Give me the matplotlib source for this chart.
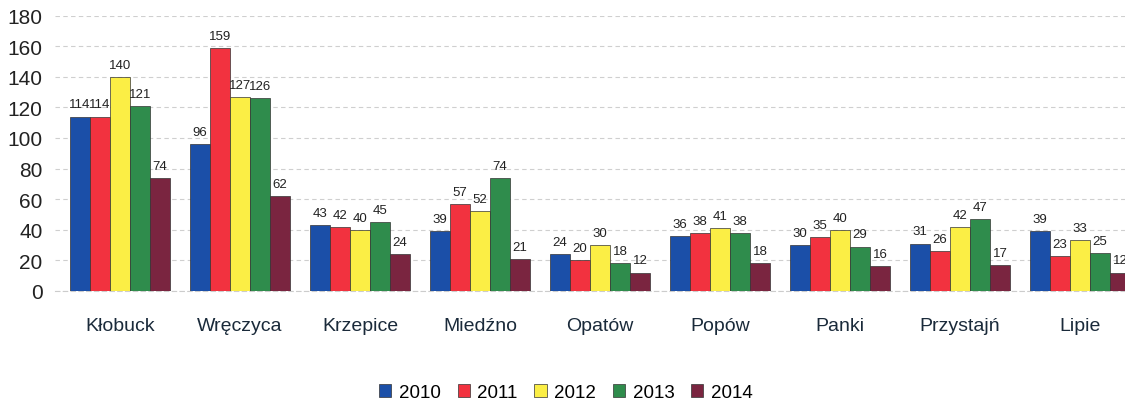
import matplotlib.pyplot as plt
import numpy as np

plt.rcParams['font.family'] = ['Liberation Sans', 'DejaVu Sans']

gminy = ['Kłobuck', 'Wręczyca', 'Krzepice', 'Miedźno', 'Opatów', 'Popów', 'Panki', 'Przystajń', 'Lipie']
lata = ['2010', '2011', '2012', '2013', '2014']
v2010 = [114, 96, 43, 39, 24, 36, 30, 31, 39]
v2011 = [114, 159, 42, 57, 20, 38, 35, 26, 23]
v2012 = [140, 127, 40, 52, 30, 41, 40, 42, 33]
v2013 = [121, 126, 45, 74, 18, 38, 29, 47, 25]
v2014 = [74, 62, 24, 21, 12, 18, 16, 17, 12]
kolory = ['#1b4fa8', '#f2323f', '#fbee45', '#2f8c4c', '#7a2540']

serie = [v2010, v2011, v2012, v2013, v2014]

fig = plt.figure(figsize=(11.25, 4.06), dpi=100)
ax = fig.add_axes([0.049, 0.281, 0.951, 0.678])

x = np.arange(len(gminy))
w = 1 / 6
for i, (vals, rok, kol) in enumerate(zip(serie, lata, kolory)):
    pos = x + (i - 2) * w
    ax.bar(pos, vals, w, color=kol, edgecolor='#333333', linewidth=0.5, label=rok, zorder=3)
    for p, v in zip(pos, vals):
        ax.text(p, v + 4, str(v), ha='center', va='bottom', fontsize=9.5, color='#222222', zorder=4)

ax.set_xlim(-0.54, 8.375)
ax.set_ylim(0, 180)
ax.set_yticks(range(0, 181, 20))
ax.set_xticks(x)
ax.set_xticklabels(gminy, fontsize=14, color='#1a2a3a')
ax.tick_params(axis='y', labelsize=15, colors='#222222', length=0, pad=9)
ax.tick_params(axis='x', length=0, pad=19)
ax.grid(axis='y', color='#cfcfcf', linestyle=(0, (4, 3)), linewidth=0.8, zorder=0)
for s in ['top', 'right', 'left']:
    ax.spines[s].set_visible(False)
ax.spines['bottom'].set_color('#cccccc')
ax.spines['bottom'].set_linestyle((0, (4, 3)))

leg = fig.legend(loc='center', bbox_to_anchor=(0.503, 0.03), ncol=5, frameon=False,
                 fontsize=13.5, handlelength=0.65, handleheight=0.65, handletextpad=0.4,
                 columnspacing=0.9, borderpad=0.2)

plt.savefig('out.png', dpi=100)
